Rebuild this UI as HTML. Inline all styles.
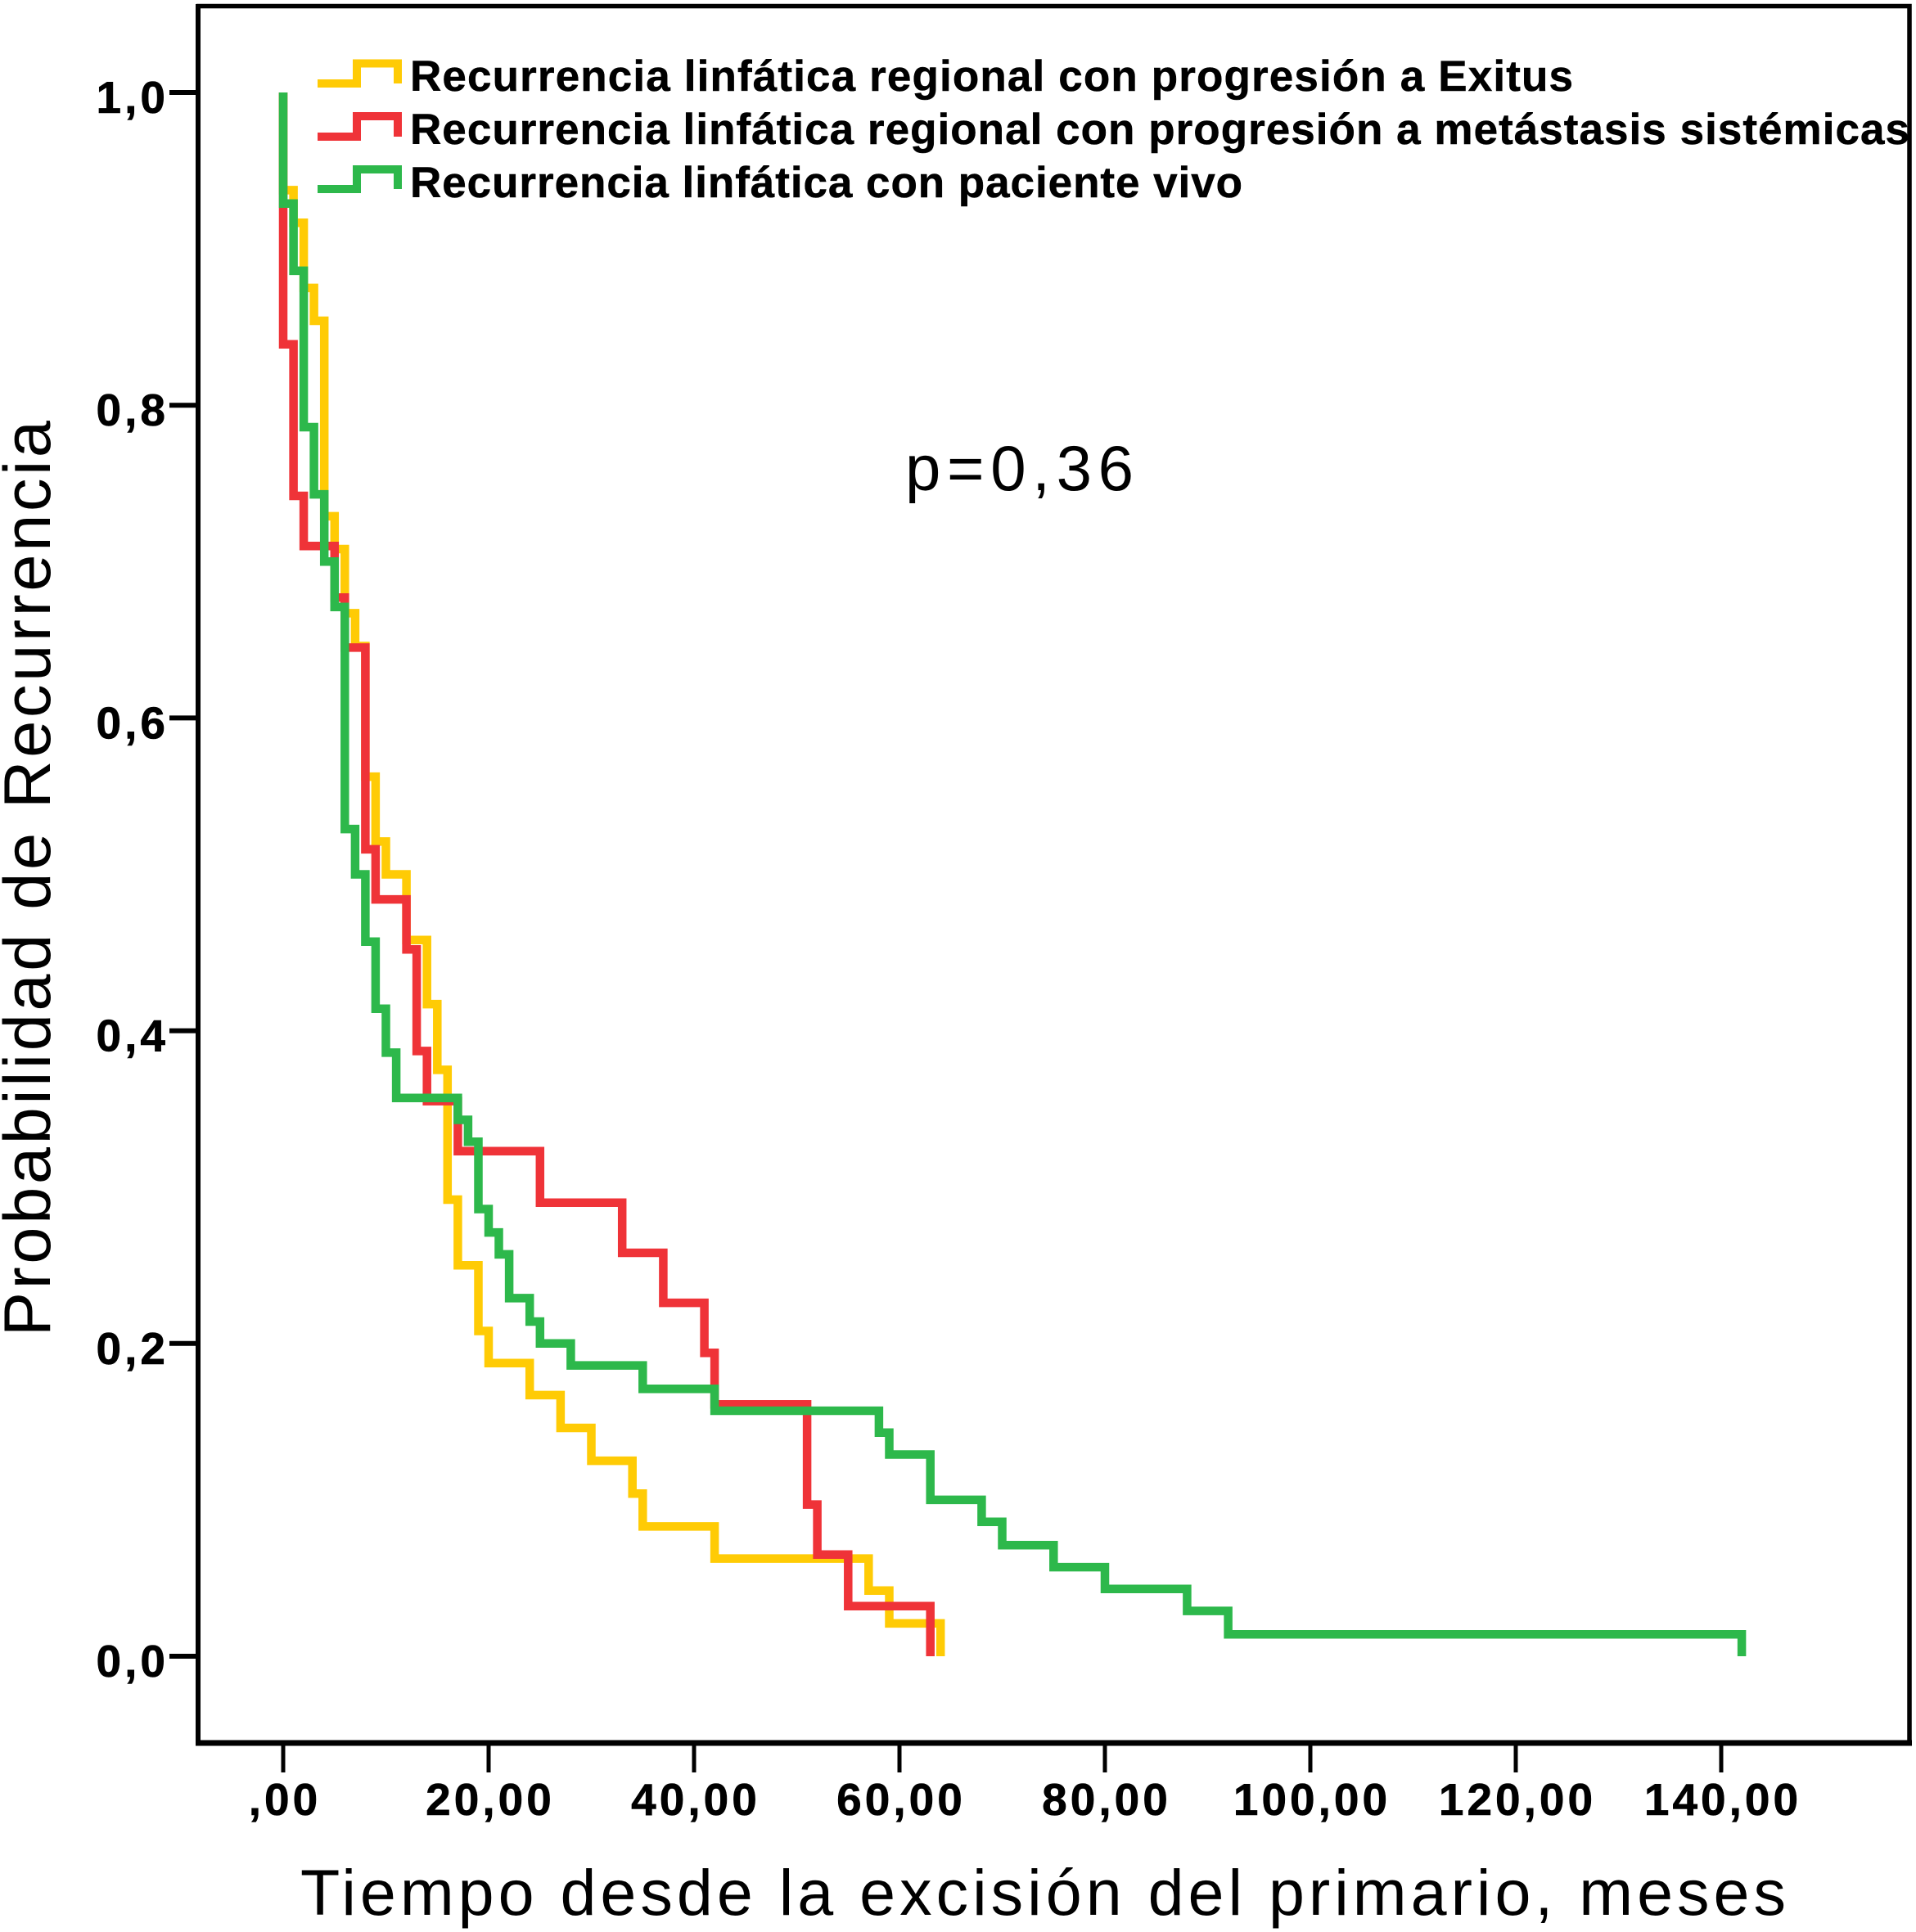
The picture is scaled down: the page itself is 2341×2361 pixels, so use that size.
<!DOCTYPE html>
<html lang="es">
<head>
<meta charset="utf-8">
<title>Probabilidad de Recurrencia</title>
<style>
html,body{margin:0;padding:0;background:#fff}
svg{display:block}
text{font-family:"Liberation Sans",Arial,sans-serif;fill:#000}
.tick{font-weight:700;font-size:55px;letter-spacing:4px;stroke:#000;stroke-width:.6px}
.leg{font-weight:700;font-size:53px;stroke:#000;stroke-width:.5px}
.title{font-size:81px}
</style>
</head>
<body>
<svg id="chart" xmlns="http://www.w3.org/2000/svg" width="2341" height="2361" viewBox="0 0 2341 2361">
<rect x="0" y="0" width="2341" height="2361" fill="#fff"/>
<g id="series" fill="none" stroke-width="10.5" stroke-linejoin="miter" stroke-linecap="butt"></g>
<g stroke="#000" fill="none">
<path d="M240 7.5H2333V2130" stroke-width="5.5"/>
<path d="M242 5V2130" stroke-width="6"/>
<path d="M239 2130H2336" stroke-width="7"/>
</g>
<g id="axes"></g>

<g>
<g>
<path d="M388 102H436V77.5H486V102" fill="none" stroke="#FFCB05" stroke-width="10"/>
<text class="leg" x="501" y="111" textLength="1421" lengthAdjust="spacing">Recurrencia linfática regional con progresión a Exitus</text>
</g>
<g>
<path d="M388 167H436V142H486V167" fill="none" stroke="#EF3338" stroke-width="10"/>
<text class="leg" x="501" y="176" textLength="1832" lengthAdjust="spacing">Recurrencia linfática regional con progresión a metástasis sistémicas</text>
</g>
<g>
<path d="M388 231H436V207H486V231" fill="none" stroke="#2DB84B" stroke-width="10"/>
<text class="leg" x="501" y="241" textLength="1017" lengthAdjust="spacing">Recurrencia linfática con paciente vivo</text>
</g>
</g>

<text x="1106" y="599" font-size="78" textLength="279" lengthAdjust="spacing">p=0,36</text>
<text class="title" transform="translate(61,1633) rotate(-90)" x="0" y="0" textLength="1119" lengthAdjust="spacing">Probabilidad de Recurrencia</text>
<text class="title" x="367" y="2340" style="font-size:79px" textLength="1815" lengthAdjust="spacing">Tiempo desde la excisión del primario, meses</text>
</svg>

<script>
// Chart data
const xTickValues = [0, 20, 40, 60, 80, 100, 120, 140];
const xTickLabels = [",00", "20,00", "40,00", "60,00", "80,00", "100,00", "120,00", "140,00"];
const yTickValues = [0, 0.2, 0.4, 0.6, 0.8, 1.0];
const yTickLabels = ["0,0", "0,2", "0,4", "0,6", "0,8", "1,0"];

const exitusTimes = [0, 1, 2, 3, 4, 5, 6, 7, 8, 9, 10, 12, 14, 15, 16, 17, 19, 20, 24, 27, 30, 34, 35, 42, 57, 59, 64];
const exitusValues = [0.9375, 0.9167, 0.875, 0.854, 0.729, 0.708, 0.667, 0.646, 0.5625, 0.521, 0.5, 0.458, 0.417, 0.375, 0.292, 0.25, 0.208, 0.1875, 0.167, 0.146, 0.125, 0.104, 0.083, 0.0625, 0.042, 0.021, 0];

const metastasisTimes = [0, 1, 2, 5, 6, 8, 9, 12, 13, 14, 17, 25, 33, 37, 41, 42, 51, 52, 55, 63];
const metastasisValues = [0.839, 0.742, 0.71, 0.677, 0.645, 0.516, 0.484, 0.452, 0.387, 0.355, 0.323, 0.29, 0.258, 0.226, 0.194, 0.161, 0.097, 0.065, 0.032, 0];

const vivoTimes = [0, 1, 2, 3, 4, 5, 6, 7, 8, 9, 10, 11, 17, 18, 19, 20, 21, 22, 24, 25, 28, 35, 42, 58, 59, 63, 68, 70, 75, 80, 88, 92, 142];
const vivoValues = [0.929, 0.886, 0.786, 0.743, 0.7, 0.671, 0.529, 0.5, 0.457, 0.414, 0.386, 0.357, 0.343, 0.329, 0.286, 0.271, 0.257, 0.229, 0.214, 0.2, 0.186, 0.171, 0.157, 0.143, 0.129, 0.1, 0.086, 0.071, 0.057, 0.043, 0.029, 0.014, 0];

const SVG_NS = "http://www.w3.org/2000/svg";
function xScale(t) { return 346 + 12.55 * t; }
function yScale(s) { return 2024 - 1911 * s; }

function stepPath(times, values) {
  let d = "M" + xScale(0) + " " + yScale(1);
  for (let i = 0; i < times.length; i++) {
    d += "H" + xScale(times[i]).toFixed(1) + "V" + yScale(values[i]).toFixed(1);
  }
  return d;
}

const seriesGroup = document.getElementById("series");

const exitusLine = document.createElementNS(SVG_NS, "path");


exitusLine.setAttribute("d", stepPath(exitusTimes, exitusValues));
exitusLine.setAttribute("stroke", "#FFCB05");
seriesGroup.appendChild(exitusLine);

const metastasisLine = document.createElementNS(SVG_NS, "path");


metastasisLine.setAttribute("d", stepPath(metastasisTimes, metastasisValues));
metastasisLine.setAttribute("stroke", "#EF3338");
seriesGroup.appendChild(metastasisLine);

const vivoLine = document.createElementNS(SVG_NS, "path");


vivoLine.setAttribute("d", stepPath(vivoTimes, vivoValues));
vivoLine.setAttribute("stroke", "#2DB84B");
seriesGroup.appendChild(vivoLine);

const axesGroup = document.getElementById("axes");

xTickValues.forEach(function (v, i) {
  const tick = document.createElementNS(SVG_NS, "line");
  
  
  tick.setAttribute("x1", xScale(v));
  tick.setAttribute("x2", xScale(v));
  tick.setAttribute("y1", 2130);
  tick.setAttribute("y2", 2166);
  tick.setAttribute("stroke", "#000");
  tick.setAttribute("stroke-width", 5);
  axesGroup.appendChild(tick);

  const label = document.createElementNS(SVG_NS, "text");
  
  
  label.setAttribute("class", "tick");
  label.setAttribute("x", xScale(v) + 2);
  label.setAttribute("y", 2218);
  label.setAttribute("text-anchor", "middle");
  label.textContent = xTickLabels[i];
  axesGroup.appendChild(label);
});

yTickValues.forEach(function (v, i) {
  const tick = document.createElementNS(SVG_NS, "line");
  
  
  tick.setAttribute("x1", 207);
  tick.setAttribute("x2", 242);
  tick.setAttribute("y1", yScale(v));
  tick.setAttribute("y2", yScale(v));
  tick.setAttribute("stroke", "#000");
  tick.setAttribute("stroke-width", 6);
  axesGroup.appendChild(tick);

  const label = document.createElementNS(SVG_NS, "text");
  
  
  label.setAttribute("class", "tick");
  label.setAttribute("x", 206);
  label.setAttribute("y", yScale(v) + 25);
  label.setAttribute("text-anchor", "end");
  label.textContent = yTickLabels[i];
  axesGroup.appendChild(label);
});
</script>
</body>
</html>
